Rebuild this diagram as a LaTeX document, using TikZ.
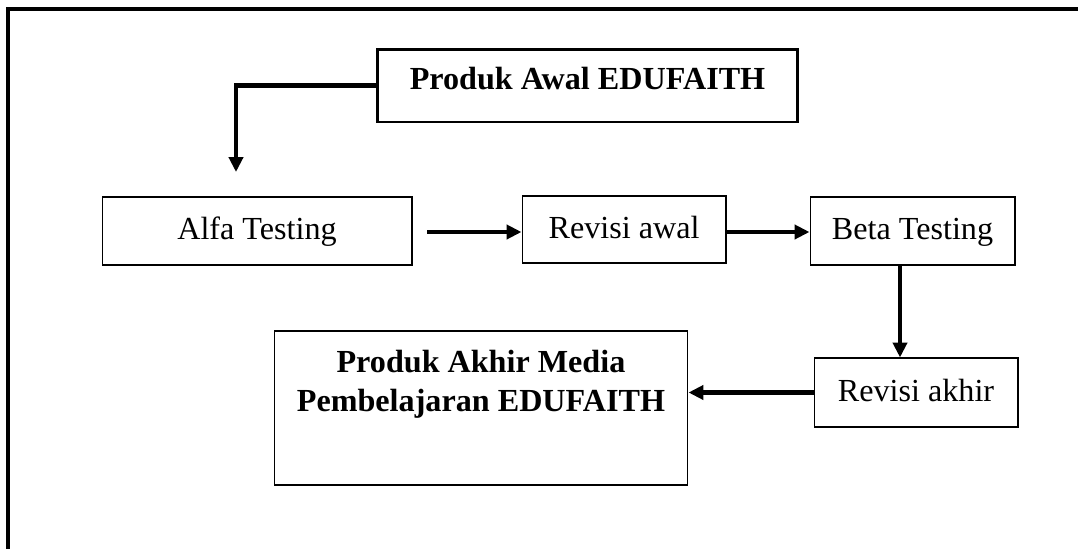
\documentclass[tikz,border=0pt]{standalone}
\usepackage{fontspec}
\setmainfont{Liberation Serif}
\usepackage{tikz}
\usetikzlibrary{arrows.meta, positioning}

\tikzset{
  stagebox/.style={draw, line width=0.6pt, inner sep=0pt, font=\fontsize{18.3}{22}\selectfont, text height=13pt, text depth=3.3pt},
  headbox/.style={draw, line width=1.7pt, inner sep=0pt, font=\fontsize{18.3}{22}\selectfont\bfseries, text height=13pt, text depth=7.9pt},
  endbox/.style={draw, line width=0.6pt, inner sep=0pt},
  endtext/.style={inner sep=0pt, align=center, font=\fontsize{18.3}{22}\selectfont\bfseries},
  flow/.style={-{Triangle[length=8.5pt, width=8pt]}, line width=2.3pt}
}

\begin{document}
\begin{tikzpicture}[x=0.02cm, y=-0.02cm]
        \useasboundingbox (0,0) rectangle (1078,548);

        % Outer frame
        \draw[line width=1.8pt] (8,9) rectangle (1110,600);

        % First product
        \node[headbox, minimum width=8.42cm, minimum height=1.46cm] (awal) at (587.5, 85.5) {Produk Awal EDUFAITH};

        % Testing stages
        \node[stagebox, minimum width=6.2cm, minimum height=1.36cm] (alfa) at (257, 231) {Alfa Testing};
        \node[stagebox, minimum width=4.08cm, minimum height=1.34cm] (revawal) at (624, 229.5) {Revisi awal};
        \node[stagebox, minimum width=4.1cm, minimum height=1.36cm] (beta) at (912.5, 231) {Beta Testing};
        \node[stagebox, minimum width=4.08cm, minimum height=1.38cm] (revakhir) at (916, 392.5) {Revisi akhir};

        % Final product
        \node[endbox, minimum width=8.28cm, minimum height=3.08cm] (akhir) at (481, 408) {};
        \node[endtext, anchor=north] (akhirtext) at (481, 350) {Produk Akhir Media\\Pembelajaran EDUFAITH};

        % Free arrow ends
        \coordinate (alfain) at (236, 172);
        \coordinate (alfaout) at (427, 232);

        % Arrows
        \draw[flow] (awal.west) -| (alfain);
        \draw[flow] (alfaout) -- (revawal.west |- alfaout);
        \draw[flow] (revawal.east |- alfaout) -- (beta.west |- alfaout);
        \draw[flow] (900, 265) coordinate (betaout) -- (betaout |- revakhir.north);
        \draw[flow] (revakhir.west) -- (akhir.east |- revakhir.west);

\end{tikzpicture}
\end{document}
